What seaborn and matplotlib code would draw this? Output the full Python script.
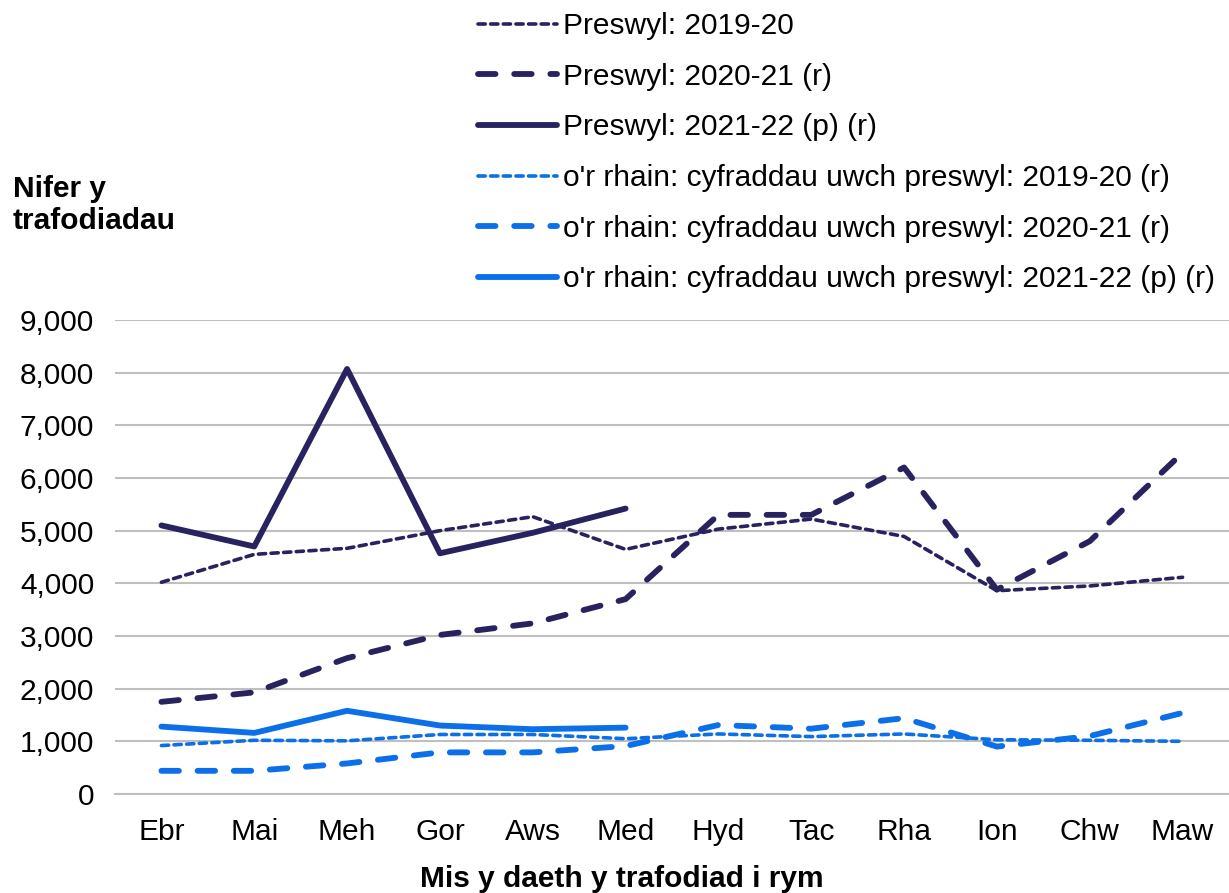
import matplotlib
matplotlib.use('Agg')
import matplotlib.pyplot as plt
import matplotlib.ticker as mticker
import seaborn as sns

# Misoedd (Ebrill - Mawrth)
months = ['Ebr', 'Mai', 'Meh', 'Gor', 'Aws', 'Med', 'Hyd', 'Tac', 'Rha', 'Ion', 'Chw', 'Maw']

# Preswyl
res_2019_20 = [4020, 4550, 4665, 5000, 5265, 4645, 5030, 5220, 4890, 3860, 3950, 4115]
res_2020_21 = [1750, 1930, 2580, 3020, 3240, 3700, 5300, 5300, 6200, 3880, 4800, 6480]
res_2021_22 = [5100, 4700, 8070, 4570, 4960, 5420]

# o'r rhain: cyfraddau uwch preswyl
hr_2019_20 = [920, 1020, 1010, 1130, 1130, 1050, 1140, 1090, 1140, 1030, 1020, 1000]
hr_2020_21 = [440, 440, 580, 790, 790, 910, 1310, 1240, 1440, 900, 1100, 1540]
hr_2021_22 = [1280, 1160, 1580, 1300, 1230, 1260]

labels = ['Preswyl: 2019-20',
          'Preswyl: 2020-21 (r)',
          'Preswyl: 2021-22 (p) (r)',
          "o'r rhain: cyfraddau uwch preswyl: 2019-20 (r)",
          "o'r rhain: cyfraddau uwch preswyl: 2020-21 (r)",
          "o'r rhain: cyfraddau uwch preswyl: 2021-22 (p) (r)"]

navy = '#28235F'
blue = '#0A6FE8'
fs = 21.5

sns.set_style('white')
plt.rcParams['font.family'] = ['Liberation Sans', 'DejaVu Sans']
plt.rcParams['text.color'] = 'black'
plt.rcParams['xtick.color'] = 'black'
plt.rcParams['ytick.color'] = 'black'
plt.rcParams['axes.labelcolor'] = 'black'

fig = plt.figure(figsize=(12.29, 8.93), dpi=100)
ax = fig.add_axes([115 / 1229, 1 - 794 / 893, 1 - 115 / 1229, (794 - 320) / 893])

dotted = (0, (2.0, 1.5))
dashed = (0, (3.0, 3.2))

series = [
    (months, res_2019_20, navy, 2.6, dotted),
    (months, res_2020_21, navy, 4.2, dashed),
    (months[:6], res_2021_22, navy, 4.2, '-'),
    (months, hr_2019_20, blue, 2.6, dotted),
    (months, hr_2020_21, blue, 4.2, dashed),
    (months[:6], hr_2021_22, blue, 4.2, '-'),
]

# llinell lawn yn gyntaf i gadw trefn y categorïau
for (x, y, c, lw, ls), lab in zip(series, labels):
    sns.lineplot(x=x, y=y, ax=ax, color=c, linewidth=lw, linestyle=ls,
                 sort=False, label=lab, legend=False,
                 dash_capstyle='round', solid_capstyle='round')

ax.set_ylim(0, 9000)
ax.set_xlim(-0.5, 11.41)
ax.yaxis.set_major_locator(mticker.MultipleLocator(1000))
ax.yaxis.set_major_formatter(mticker.FuncFormatter(lambda v, p: f'{int(v):,}'))

ax.grid(axis='y', color='#BFBFBF', linewidth=1.5)
ax.grid(axis='x', visible=False)
ax.set_axisbelow(True)
for s in ['top', 'right', 'left']:
    ax.spines[s].set_visible(False)
ax.spines['bottom'].set_color('#BFBFBF')
ax.spines['bottom'].set_linewidth(1.5)

ax.tick_params(axis='y', length=0, labelsize=fs, pad=15)
ax.tick_params(axis='x', which='major', length=0, labelsize=fs, pad=17)
ax.set_xticks([i + 0.5 for i in range(-1, 12)], minor=True)
ax.tick_params(axis='x', which='minor', length=6, width=1.5, color='#BFBFBF', direction='out')

ax.set_xlabel('Mis y daeth y trafodiad i rym', fontsize=fs, fontweight='bold')
ax.xaxis.set_label_coords((622 - 115) / (1229 - 115), -0.15)
ax.set_ylabel('')
fig.text(13 / 1229, 1 - 175 / 893, 'Nifer y\ntrafodiadau', fontsize=fs, fontweight='bold',
         va='top', ha='left', linespacing=1.2)

handles, labs = ax.get_legend_handles_labels()
fig.legend(handles, labs, loc='upper left', bbox_to_anchor=(478 / 1229, 1 - 12 / 893),
           frameon=False, fontsize=fs, handlelength=2.65, handletextpad=0.2,
           labelspacing=0.76, borderpad=0, borderaxespad=0)

fig.savefig('out.png', dpi=100)
